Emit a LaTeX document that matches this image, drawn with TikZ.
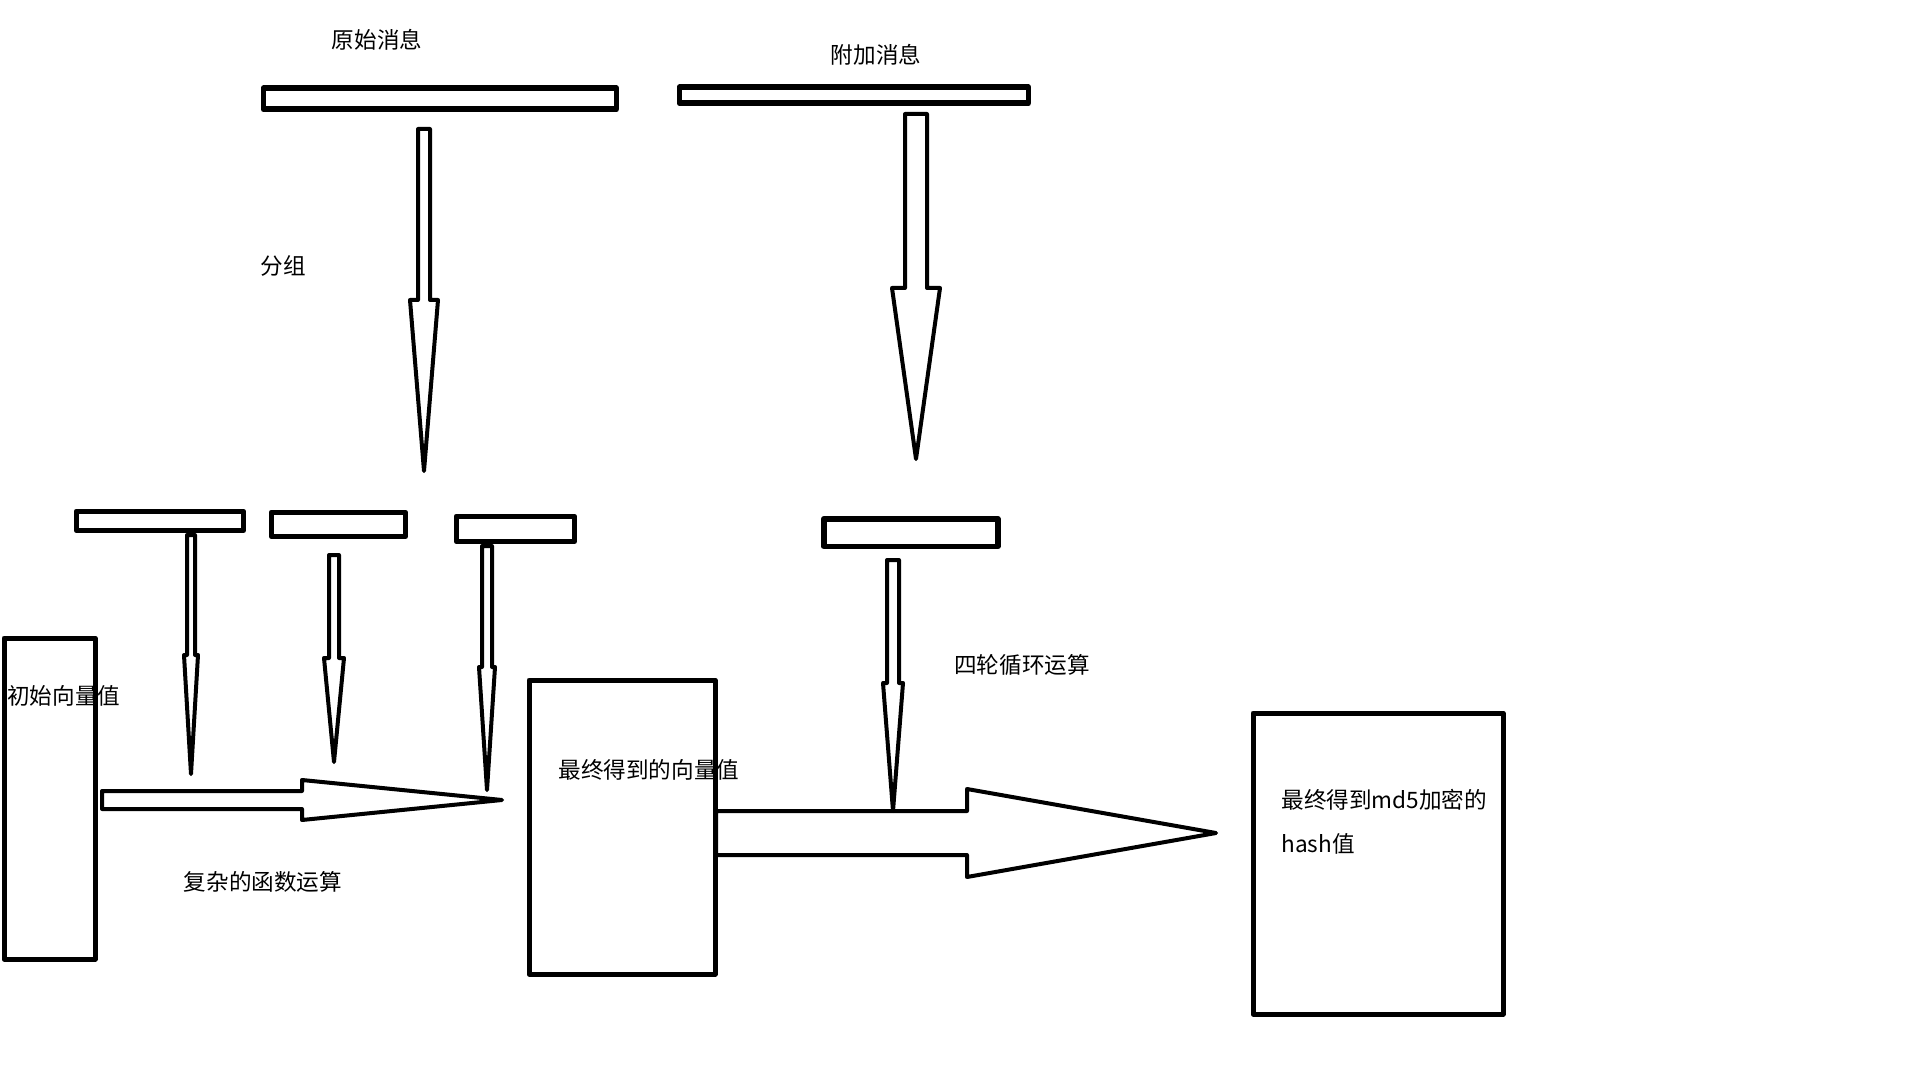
\documentclass[tikz,border=0pt]{standalone}
\usepackage{fontspec}
\newfontfamily\cjk{Noto Sans CJK SC}
\usepackage{tikz}
\usetikzlibrary{positioning}

% vertical block arrow: x, top, head base, tip, shaft half width, head half width
\newcommand{\vblock}[6]{%
  \draw ({#1-#5},#2) -- ({#1+#5},#2) -- ({#1+#5},#3) -- ({#1+#6},#3) -- (#1,#4)
        -- ({#1-#6},#3) -- ({#1-#5},#3) -- cycle;}
% horizontal block arrow: y, left, head base, tip, shaft half width, head half width
\newcommand{\hblock}[6]{%
  \draw (#2,{#1-#5}) -- (#3,{#1-#5}) -- (#3,{#1-#6}) -- (#4,#1) -- (#3,{#1+#6})
        -- (#3,{#1+#5}) -- (#2,{#1+#5}) -- cycle;}

\begin{document}
\begin{tikzpicture}[x=0.5pt,y=-0.5pt,line join=round,
    bar/.style={draw,line width=2.8pt,inner sep=0pt,anchor=north west},
    box/.style={draw,line width=2.5pt,inner sep=0pt,anchor=north west},
    lbl/.style={font=\cjk\fontsize{11.3}{13}\selectfont,inner sep=0pt}]
    \useasboundingbox (0,0) rectangle (1920,1080);

    % message bars
    \node[bar,minimum width=176.5pt,minimum height=10.5pt] (msg) at (260.5,85.5) {};
    \node[bar,minimum width=174.5pt,minimum height=8pt] (pad) at (676.5,84.5) {};
    \node[lbl] (msglbl) at (377,40) {原始消息};
    \node[lbl] (padlbl) at (876,55) {附加消息};

    % blocks after splitting
    \node[bar,minimum width=83.5pt,minimum height=9.5pt] (blk1) at (73.5,508.5) {};
    \node[bar,minimum width=67pt,minimum height=12pt] (blk2) at (268.5,509.5) {};
    \node[bar,minimum width=59pt,minimum height=12.5pt] (blk3) at (453.5,513.5) {};
    \node[bar,minimum width=87pt,minimum height=13.75pt] (blk4) at (821,516) {};

    % big boxes
    \node[box,minimum width=45.5pt,minimum height=160.5pt] (init) at (1.5,635.5) {};
    \node[box,minimum width=93pt,minimum height=147pt] (mid) at (526.5,677.5) {};
    \node[box,minimum width=125pt,minimum height=150.5pt] (hash) at (1250.5,710.5) {};

    \begin{scope}[line width=2pt]
        \vblock{424}{129}{300}{471}{6}{14}
        \vblock{916}{114}{288}{459}{11}{24}
        \vblock{191}{535}{655}{774}{4}{7}
        \vblock{334}{555}{658}{762}{5}{10}
        \vblock{487}{546}{667}{790}{5}{8}
        \vblock{893}{560}{683}{811}{6}{10}
        \hblock{800}{102}{302}{502}{9}{20}
        \hblock{833}{716}{967}{1216}{22}{44}
    \end{scope}

    \node[lbl] (split) at (283,266) {分组};
    \node[lbl,anchor=west] (initlbl) at (7,696) {初始向量值};
    \node[lbl] (funclbl) at (263,882) {复杂的函数运算};
    \node[lbl,anchor=west] (midlbl) at (558,770) {最终得到的向量值};
    \node[lbl] (roundlbl) at (1022,665) {四轮循环运算};
    \node[lbl,anchor=west] (hashlbl) at (1281,800) {最终得到md5加密的};
    \node[lbl,anchor=west] (hashlbl2) at (1281,844) {hash值};
\end{tikzpicture}
\end{document}
